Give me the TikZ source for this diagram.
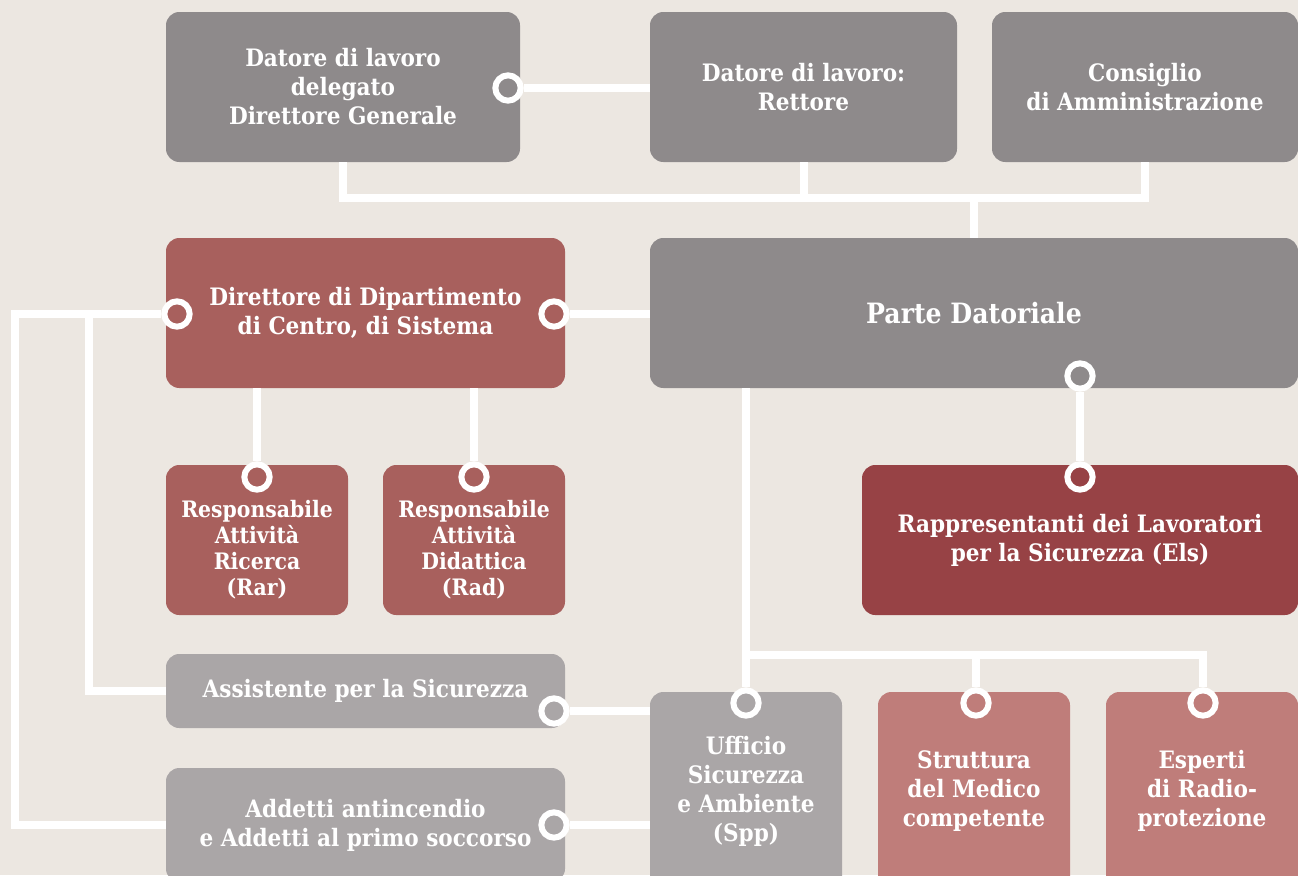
\documentclass[tikz,border=0pt]{standalone}
\usepackage{fontspec}
\newfontfamily\boxfont{DejaVuSerifCondensed-Bold}[Extension=.ttf]
\usepackage{tikz}

\definecolor{sfondo}{HTML}{ECE7E1}
\definecolor{grigio}{HTML}{8E8A8B}
\definecolor{grigiochiaro}{HTML}{AAA6A7}
\definecolor{rosso}{HTML}{A8605D}
\definecolor{rossoscuro}{HTML}{974245}
\definecolor{rosa}{HTML}{BF7D7A}

\begin{document}
\begin{tikzpicture}[x=0.75pt, y=-0.75pt,
				box/.style 2 args={rectangle, rounded corners=10pt, minimum width=#1*0.75pt, minimum height=#2*0.75pt, inner sep=0pt, text=white, align=center, font=\boxfont\fontsize{18}{21.75}\selectfont},
				smalltext/.style={text=white, align=center, font=\boxfont\fontsize{17}{19.5}\selectfont},
				port/.style={circle, draw=white, line width=4.5pt, minimum size=19pt, inner sep=0pt},
				link/.style={draw=white, line width=6pt}]

				\useasboundingbox (0,0) rectangle (1298,875);
				\fill[sfondo] (0,0) rectangle (1298,875);
				\clip (0,0) rectangle (1298,875);

				\node (datore) at (343,87) [box={354}{150}, fill=grigio] {Datore di lavoro\\delegato\\Direttore Generale};
				\node (rettore) at (803.5,87) [box={307}{150}, fill=grigio] {Datore di lavoro:\\Rettore};
				\node (consiglio) at (1145,87) [box={306}{150}, fill=grigio] {Consiglio\\di Amministrazione};
				\node (direttore) at (365.5,313) [box={399}{150}, fill=rosso] {Direttore di Dipartimento\\di Centro, di Sistema};
				\node (parte) at (974,313) [box={648}{150}, fill=grigio, font=\boxfont\fontsize{21}{25}\selectfont] {Parte Datoriale};
				\node (rar) at (257,540) [box={182}{150}, fill=rosso, label={[name=rarT, smalltext, yshift=-7.5pt]center:{Responsabile\\Attività\\Ricerca\\(Rar)}}] {};
				\node (rad) at (474,540) [box={182}{150}, fill=rosso, label={[name=radT, smalltext, yshift=-7.5pt]center:{Responsabile\\Attività\\Didattica\\(Rad)}}] {};
				\node (rls) at (1080,540) [box={436}{150}, fill=rossoscuro] {Rappresentanti dei Lavoratori\\per la Sicurezza (Els)};
				\node (assistente) at (365.5,691) [box={399}{74}, fill=grigiochiaro] {Assistente per la Sicurezza};
				\node (addetti) at (365.5,825) [box={399}{114}, fill=grigiochiaro] {Addetti antincendio\\e Addetti al primo soccorso};
				\node (ufficio) at (746,791) [box={192}{198}, fill=grigiochiaro] {Ufficio\\Sicurezza\\e Ambiente\\(Spp)};
				\node (medico) at (974,791) [box={192}{198}, fill=rosa] {Struttura\\del Medico\\competente};
				\node (esperti) at (1202,791) [box={192}{198}, fill=rosa] {Esperti\\di Radio-\\protezione};

				% attacchi
				\node (datoreP) at (508,88) [port, fill=grigio] {};
				\node (dirL) at (177,314) [port, fill=rosso] {};
				\node (dirR) at (554,314) [port, fill=rosso] {};
				\node (rarP) at (257,477) [port, fill=rosso] {};
				\node (radP) at (474,477) [port, fill=rosso] {};
				\node (parteP) at (1080,376) [port, fill=grigio] {};
				\node (rlsP) at (1080,477) [port, fill=rossoscuro] {};
				\node (assistenteP) at (554,711) [port, fill=grigiochiaro] {};
				\node (addettiP) at (554,825) [port, fill=grigiochiaro] {};
				\node (ufficioP) at (746,703) [port, fill=grigiochiaro] {};
				\node (medicoP) at (976,703) [port, fill=rosa] {};
				\node (espertiP) at (1203,703) [port, fill=rosa] {};

				\coordinate (bus) at (974,198);
				\coordinate (sx) at (15,314);
				\coordinate (sx2) at (89,314);
				\coordinate (sp) at (746,655);

				\draw[link] (datoreP) -- (datoreP -| rettore.west);
				\draw[link] (datore.south) |- (consiglio.south |- bus) -- (consiglio.south);
				\draw[link] (rettore.south) -- (rettore.south |- bus);
				\draw[link] (bus) -- (parte.north);

				\draw[link] (dirR) -- (dirR -| parte.west);
				\draw[link] (dirL) -- (sx) |- (addetti.west);
				\draw[link] (sx2) |- (assistente.west);
				\draw[link] (direttore.south -| rarP) -- (rarP);
				\draw[link] (direttore.south -| radP) -- (radP);
				\draw[link] (parteP) -- (rlsP);

				\draw[link] (parte.south -| ufficioP) -- (ufficioP);
				\draw[link] (sp) -| (espertiP);
				\draw[link] (sp -| medicoP) -- (medicoP);
				\draw[link] (assistenteP) -- (assistenteP -| ufficio.west);
				\draw[link] (addettiP) -- (addettiP -| ufficio.west);

\end{tikzpicture}
\end{document}
